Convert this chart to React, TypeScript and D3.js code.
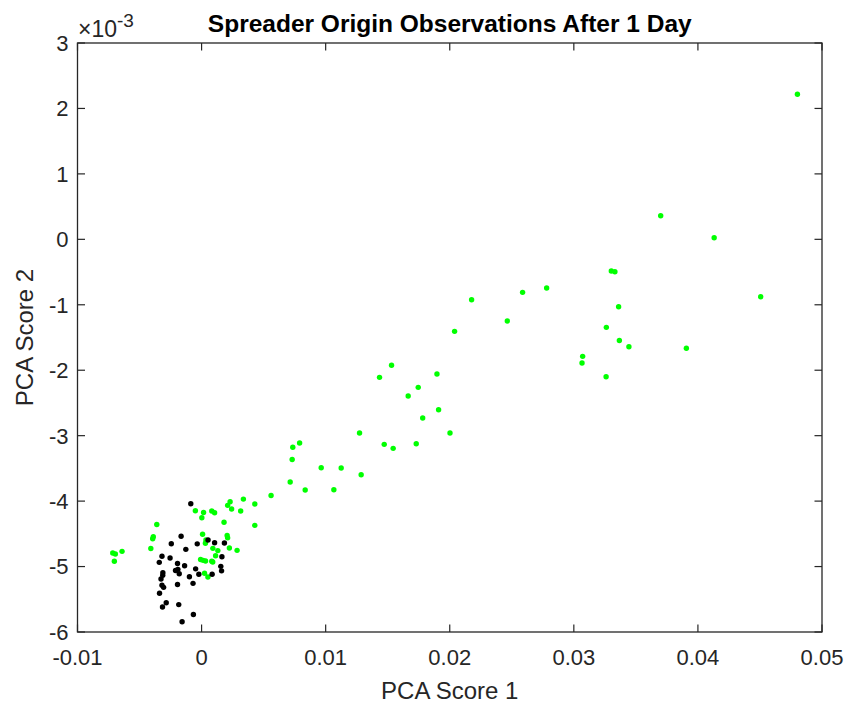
import React from "react";
import * as d3 from "d3";

const W = 849;
const H = 704;

const titleText = "Spreader Origin Observations After 1 Day";
const xLabel = "PCA Score 1";
const yLabel = "PCA Score 2";
const xTicks = [-0.01, 0, 0.01, 0.02, 0.03, 0.04, 0.05];
const xTickLabels = ["-0.01", "0", "0.01", "0.02", "0.03", "0.04", "0.05"];
const yTicks = [3, 2, 1, 0, -1, -2, -3, -4, -5, -6];
const yTickLabels = ["3", "2", "1", "0", "-1", "-2", "-3", "-4", "-5", "-6"];

// y values in units of 1e-3
const greenX = [
  0.04802, 0.037, 0.04131, 0.03302, 0.03331, 0.03361, 0.04506, 0.03262, 0.03367, 0.03444,
  0.03907, 0.03071, 0.03066, 0.0326, 0.02176, 0.02587, 0.02781, 0.02464, 0.02039, 0.01897,
  0.01746, 0.01665, 0.0191, 0.01782, 0.01531, 0.01434, 0.01273, 0.02002, 0.0079, 0.00735,
  0.01472, 0.01544, 0.0173, 0.0073, 0.00964, 0.01125, 0.01286, 0.00714, 0.00835, 0.01066,
  0.0056, 0.00337, 0.00429, 0.00315, 0.0023, 0.0021, 0.00242, 0.00016, 0.00082, 0.00105,
  0.00002, 0.00181, 0.00429, -0.0005, -0.00361, -0.00389, -0.00394, -0.00409, 0.00008, 0.00035,
  0.00031, 0.00206, 0.0021, 0.00091, 0.00131, 0.00113, 0.00224, 0.00286, -0.00008, 0.00012,
  0.00032, 0.00082, 0.0009, 0.00024, 0.00051, -0.00641, -0.00716, -0.00695, -0.00703,
];
const greenY = [
  2.216, 0.361, 0.024, -0.484, -0.495, -1.03, -0.877, -1.345, -1.546, -1.641,
  -1.664, -1.788, -1.89, -2.1, -0.923, -0.81, -0.744, -1.248, -1.406, -2.058,
  -2.262, -2.395, -2.604, -2.731, -1.925, -2.109, -2.96, -2.96, -3.113, -3.178,
  -3.133, -3.194, -3.123, -3.365, -3.49, -3.495, -3.597, -3.709, -3.831, -3.826,
  -3.915, -3.969, -4.045, -4.152, -4.01, -4.065, -4.121, -4.175, -4.152, -4.178,
  -4.254, -4.323, -4.37, -4.147, -4.358, -4.545, -4.575, -4.723, -4.506, -4.595,
  -4.645, -4.526, -4.561, -4.722, -4.756, -4.835, -4.717, -4.752, -4.893, -4.905,
  -4.916, -4.92, -4.931, -5.102, -5.16, -4.768, -4.794, -4.809, -4.92,
];
const blackX = [
  -0.00087, -0.00165, -0.00244, -0.00127, -0.00035, 0.00052, 0.00105, 0.00184, 0.00164, -0.00319,
  -0.00254, -0.00341, -0.00194, -0.00137, -0.0021, -0.00191, -0.0018, -0.00048, -0.00022, 0.00085,
  0.00155, 0.00161, -0.00098, -0.00312, -0.00313, -0.00327, -0.00069, -0.00319, -0.00306, -0.00194,
  -0.00339, -0.00285, -0.00315, -0.00184, -0.00066, -0.00157,
];
const blackY = [
  -4.04, -4.538, -4.652, -4.737, -4.653, -4.595, -4.636, -4.641, -4.85, -4.843,
  -4.87, -4.936, -4.954, -4.988, -5.061, -5.043, -5.11, -5.035, -5.118, -5.118,
  -4.997, -5.066, -5.156, -5.095, -5.134, -5.191, -5.257, -5.286, -5.318, -5.275,
  -5.408, -5.553, -5.619, -5.581, -5.733, -5.843,
];

const FONT = "'Liberation Sans', Arial, Helvetica, sans-serif";
const AX = "#262626";

export default function App() {
  const left = 77.5, right = 822, top = 43, bottom = 632;
  const x = d3.scaleLinear().domain([-0.01, 0.05]).range([left, right]);
  const y = d3.scaleLinear().domain([-6, 3]).range([bottom, top]);
  const tl = 7.5;
  const r = 2.7;
  const tickFs = 22;

  return (
    <svg
      width={W}
      height={H}
      style={{ position: "absolute", left: 0, top: 0, background: "#fff" }}
      fontFamily={FONT}
    >
      <rect x={0} y={0} width={W} height={H} fill="#fff" />
      {greenX.map((v, i) => (
        <circle key={"g" + i} cx={x(v)} cy={y(greenY[i])} r={r} fill="#00ff00" />
      ))}
      {blackX.map((v, i) => (
        <circle key={"b" + i} cx={x(v)} cy={y(blackY[i])} r={r} fill="#000" />
      ))}
      <rect x={left} y={top} width={right - left} height={bottom - top} fill="none" stroke={AX} strokeWidth={1.3} />
      {xTicks.map((t, i) => (
        <g key={"xt" + i}>
          <line x1={x(t)} x2={x(t)} y1={bottom} y2={bottom - tl} stroke={AX} strokeWidth={1.2} />
          <line x1={x(t)} x2={x(t)} y1={top} y2={top + tl} stroke={AX} strokeWidth={1.2} />
          <text x={x(t)} y={665} textAnchor="middle" fontSize={tickFs} fill={AX}>
            {xTickLabels[i]}
          </text>
        </g>
      ))}
      {yTicks.map((t, i) => (
        <g key={"yt" + i}>
          <line x1={left} x2={left + tl} y1={y(t)} y2={y(t)} stroke={AX} strokeWidth={1.2} />
          <line x1={right} x2={right - tl} y1={y(t)} y2={y(t)} stroke={AX} strokeWidth={1.2} />
          <text x={left - 9} y={y(t)} dy="0.36em" textAnchor="end" fontSize={tickFs} fill={AX}>
            {yTickLabels[i]}
          </text>
        </g>
      ))}
      <text x={78} y={37} fontSize={23} fill={AX}>
        {"\u00d710"}
        <tspan dy={-10} fontSize={19}>-3</tspan>
      </text>
      <text x={(left + right) / 2} y={32} textAnchor="middle" fontSize={24.5} fontWeight="bold" fill="#000">
        {titleText}
      </text>
      <text x={(left + right) / 2} y={699} textAnchor="middle" fontSize={24} fill={AX}>
        {xLabel}
      </text>
      <text
        transform={`translate(${33},${(top + bottom) / 2}) rotate(-90)`}
        textAnchor="middle"
        fontSize={24}
        fill={AX}
      >
        {yLabel}
      </text>
    </svg>
  );
}
